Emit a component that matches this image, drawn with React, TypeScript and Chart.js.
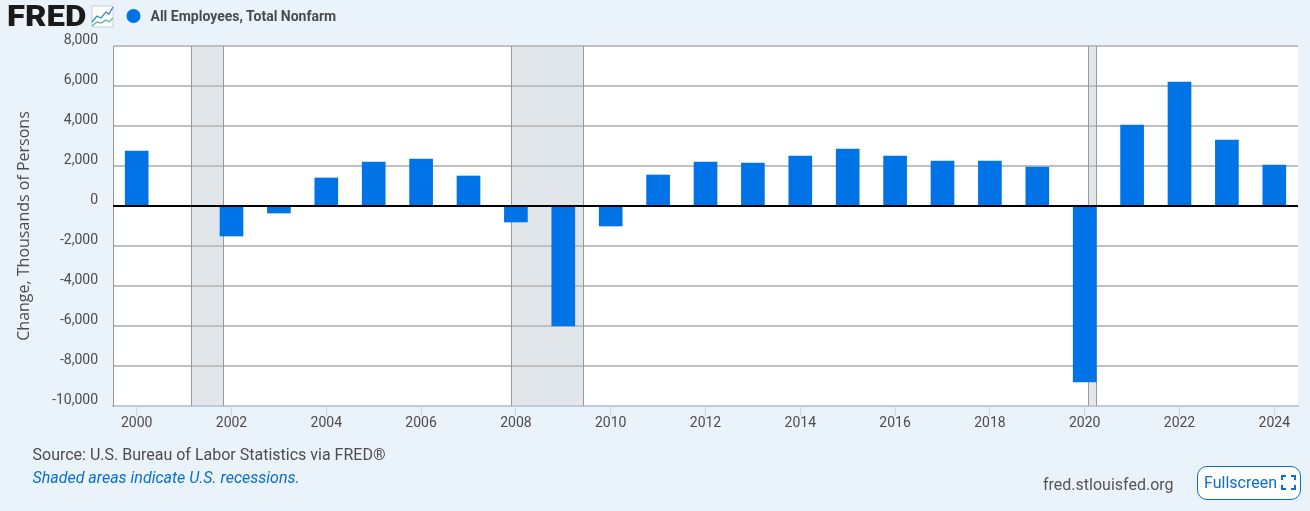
import React, { useEffect, useRef } from "react";
import { Chart, registerables } from "chart.js";

Chart.register(...registerables);

const years = ["2000","2001","2002","2003","2004","2005","2006","2007","2008","2009","2010","2011","2012","2013","2014","2015","2016","2017","2018","2019","2020","2021","2022","2023","2024"];
const changes = [2750,null,-1500,-350,1400,2200,2350,1500,-800,-6000,-1000,1550,2200,2150,2500,2850,2500,2250,2250,1950,-8800,4050,6200,3300,2050];
const recessionStarts = [2001.16,2007.9,2020.09];
const recessionEnds = [2001.84,2009.42,2020.25];
const seriesName = "All Employees, Total Nonfarm";
const yTitle = "Change, Thousands of Persons";

const BG = "#EAF3FA";
const BLUE = "#0073E6";
const TEXT = "#4D4D4D";

const plotPlugin = {
  id: "fredPlot",
  beforeDraw(chart: any) {
    const { ctx, chartArea: a, scales } = chart;
    ctx.save();
    ctx.fillStyle = "#FFFFFF";
    ctx.fillRect(a.left, a.top, a.right - a.left, a.bottom - a.top);
    ctx.fillStyle = "#E1E6EB";
    recessionStarts.forEach((s, i) => {
      const x0 = scales.recession.getPixelForValue(s);
      const x1 = scales.recession.getPixelForValue(recessionEnds[i]);
      ctx.fillRect(x0, a.top, x1 - x0, a.bottom - a.top);
    });
    ctx.restore();
  },
  beforeDatasetsDraw(chart: any) {
    const { ctx, chartArea: a, scales } = chart;
    ctx.save();
    ctx.strokeStyle = "#999999";
    ctx.lineWidth = 1;
    ctx.beginPath();
    const edge = (v: number) => {
      const x = Math.floor(scales.recession.getPixelForValue(v)) + 0.5;
      ctx.moveTo(x, a.top);
      ctx.lineTo(x, a.bottom);
    };
    recessionStarts.forEach(edge);
    recessionEnds.forEach(edge);
    ctx.stroke();
    ctx.restore();
  },
  afterDatasetsDraw(chart: any) {
    const { ctx, chartArea: a, scales } = chart;
    const y = scales.y.getPixelForValue(0);
    ctx.save();
    ctx.strokeStyle = "#000000";
    ctx.lineWidth = 2;
    ctx.beginPath();
    ctx.moveTo(a.left, y);
    ctx.lineTo(a.right, y);
    ctx.stroke();
    ctx.restore();
  },
};

export default function App() {
  const ref = useRef<HTMLCanvasElement>(null);

  useEffect(() => {
    document.body.style.margin = "0";
    document.body.style.overflow = "hidden";
    const chart = new Chart(ref.current as any, {
      type: "bar",
      data: {
        labels: years,
        datasets: [
          {
            label: seriesName,
            data: changes as any,
            backgroundColor: BLUE,
            barThickness: 23,
            borderWidth: 0,
          },
        ],
      },
      plugins: [plotPlugin],
      options: {
        animation: false,
        responsive: false,
        layout: { padding: { left: 0, top: 46, right: 12, bottom: 69 } },
        plugins: { legend: { display: false }, tooltip: { enabled: false }, title: { display: false } },
        scales: {
          x: {
            type: "category",
            afterBuildTicks(s: any) {
              s.ticks = s.ticks.filter((t: any) => t.value % 2 === 0);
            },
            afterFit(s: any) {
              s.height = 36;
            },
            grid: {
              offset: false,
              drawOnChartArea: false,
              drawTicks: true,
              tickLength: 10,
              tickColor: "#CCD6EB",
              tickWidth: 1,
            },
            border: { color: "#C0CBDC", width: 2 },
            ticks: {
              autoSkip: false,
              maxRotation: 0,
              padding: -1,
              color: TEXT,
              font: { family: "Roboto", size: 14 },
            },
          },
          recession: {
            type: "linear",
            axis: "x",
            display: false,
            offset: false,
            bounds: "data",
            min: 1999.5,
            max: 2024.5,
          },
          y: {
            min: -10000,
            max: 8000,
            afterFit(s: any) {
              s.width = 113;
            },
            grid: { color: "#C0C0C0", lineWidth: 2, drawTicks: false },
            border: { color: "#999999", width: 1 },
            title: {
              display: true,
              text: yTitle,
              color: TEXT,
              font: { family: "Open Sans", size: 16 },
              padding: { top: 15, bottom: 0 },
            },
            ticks: {
              stepSize: 2000,
              padding: 15,
              labelOffset: -6,
              color: TEXT,
              font: { family: "Roboto", size: 14 },
              callback: (v: any) => Number(v).toLocaleString("en-US"),
            },
          },
        },
      },
    } as any);
    return () => chart.destroy();
  }, []);

  const text: React.CSSProperties = { position: "absolute", whiteSpace: "nowrap", fontFamily: "Roboto", lineHeight: "20px" };

  return (
    <div style={{ position: "absolute", left: 0, top: 0, width: 1310, height: 511, background: BG, overflow: "hidden" }}>
      <canvas ref={ref} width={1310} height={511} style={{ position: "absolute", left: 0, top: 0, display: "block" }} />
      <div style={{ ...text, left: 7, top: 0, fontSize: 30, lineHeight: "32px", fontWeight: 900, color: "#1A1A1A", transform: "scaleX(1.1)", transformOrigin: "left center" }}>FRED</div>
      <svg width={24} height={23} style={{ position: "absolute", left: 90.5, top: 5 }}>
        <rect x={1} y={1} width={21} height={21} fill="#FFFFFF" stroke="#C8CDD2" />
        <polyline points="1,17 6,11 10,13 15,7 18,9 22,2" fill="none" stroke="#2F86D8" strokeWidth={1.3} />
        <polyline points="1,21 6,17 10,18 15,15 18,17 22,13" fill="none" stroke="#5CB8A6" strokeWidth={1.3} />
      </svg>
      <svg width={16} height={16} style={{ position: "absolute", left: 126, top: 8 }}>
        <circle cx={7.5} cy={8} r={7} fill={BLUE} />
      </svg>
      <div style={{ ...text, left: 150.5, top: 6, fontSize: 14, fontWeight: 700, color: "#4A4A55" }}>{seriesName}</div>
      <div style={{ ...text, left: 32.5, top: 445, fontSize: 16, color: TEXT }}>Source: U.S. Bureau of Labor Statistics via FRED®</div>
      <div style={{ ...text, left: 32.5, top: 468, fontSize: 16, fontStyle: "italic", color: "#0A6ED1" }}>Shaded areas indicate U.S. recessions.</div>
      <div style={{ ...text, left: 1043, top: 475, fontSize: 16, color: "#555555" }}>fred.stlouisfed.org</div>
      <div style={{ position: "absolute", left: 1197, top: 466, width: 102, height: 32, border: "1px solid #0A6ED1", borderRadius: 10, background: "#FFFFFF" }}>
        <div style={{ ...text, left: 6, top: 6, fontSize: 16, color: "#0A6ED1" }}>Fullscreen</div>
        <svg width={16} height={16} style={{ position: "absolute", left: 83, top: 8 }}>
          <path d="M1 5V1H5M10 1H14V5M14 10V14H10M5 14H1V10" fill="none" stroke="#0A6ED1" strokeWidth={2} />
        </svg>
      </div>
    </div>
  );
}
